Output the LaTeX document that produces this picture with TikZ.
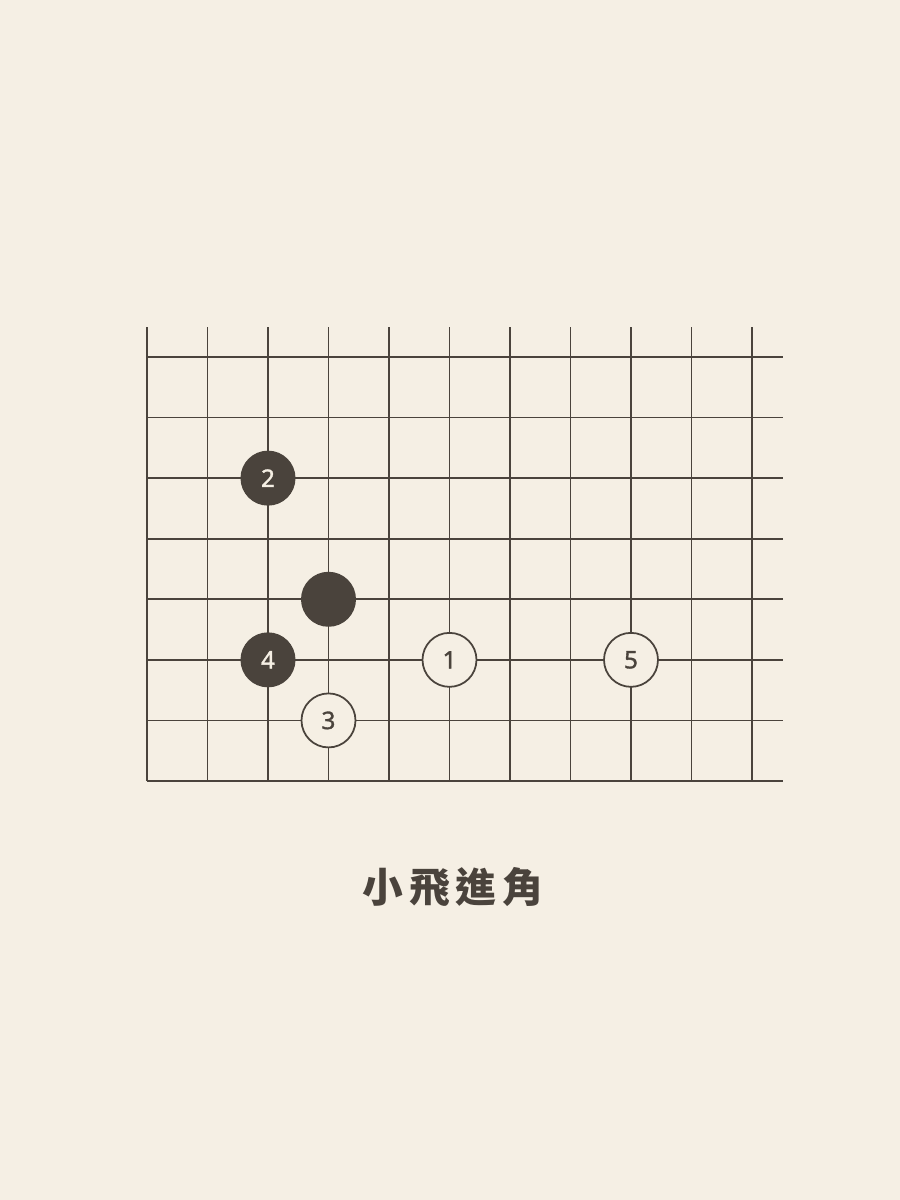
\documentclass[tikz,border=0pt]{standalone}
\usepackage{fontspec}
\newfontfamily\numfont[FakeBold=1.4]{Noto Sans}
\newfontfamily\cjkfont[LetterSpace=14]{Noto Sans CJK TC}
\usepackage{tikz}

\definecolor{paper}{HTML}{F5EFE4}
\definecolor{ink}{HTML}{4A433C}

\tikzset{
  gridline/.style={draw=ink, line width=0.5pt},
  blackstone/.style={circle, fill=ink, text=paper, minimum size=0.55cm, inner sep=0pt,
    font=\numfont\fontsize{6.9pt}{7pt}\selectfont},
  whitestone/.style={circle, draw=ink, line width=0.5pt, fill=paper, text=ink,
    minimum size=0.54cm, inner sep=0pt, font=\numfont\fontsize{6.9pt}{7pt}\selectfont}
}

\begin{document}
\begin{tikzpicture}
  \fill[paper] (0,0) rectangle (9,12);
  \useasboundingbox (0,0) rectangle (9,12);

  \begin{scope}[shift={(1.47,4.19)}, x=0.605cm, y=0.6057cm]
    % board lines
    \foreach \i in {0,...,10}
      \draw[gridline] (\i,0) -- (\i,7.5);
    \foreach \j in {0,...,7}
      \draw[gridline] (0,\j) -- (10.52,\j);

    % stones
    \node[blackstone] (B2) at (2,5) {2};
    \node[blackstone] (B0) at (3,3) {};
    \node[blackstone] (B4) at (2,2) {4};
    \node[whitestone] (W1) at (5,2) {1};
    \node[whitestone] (W5) at (8,2) {5};
    \node[whitestone] (W3) at (3,1) {3};
  \end{scope}

  \node[text=ink, font=\cjkfont\bfseries\fontsize{11.6pt}{13pt}\selectfont] (title) at (4.53,3.13) {小飛進角};
\end{tikzpicture}
\end{document}
